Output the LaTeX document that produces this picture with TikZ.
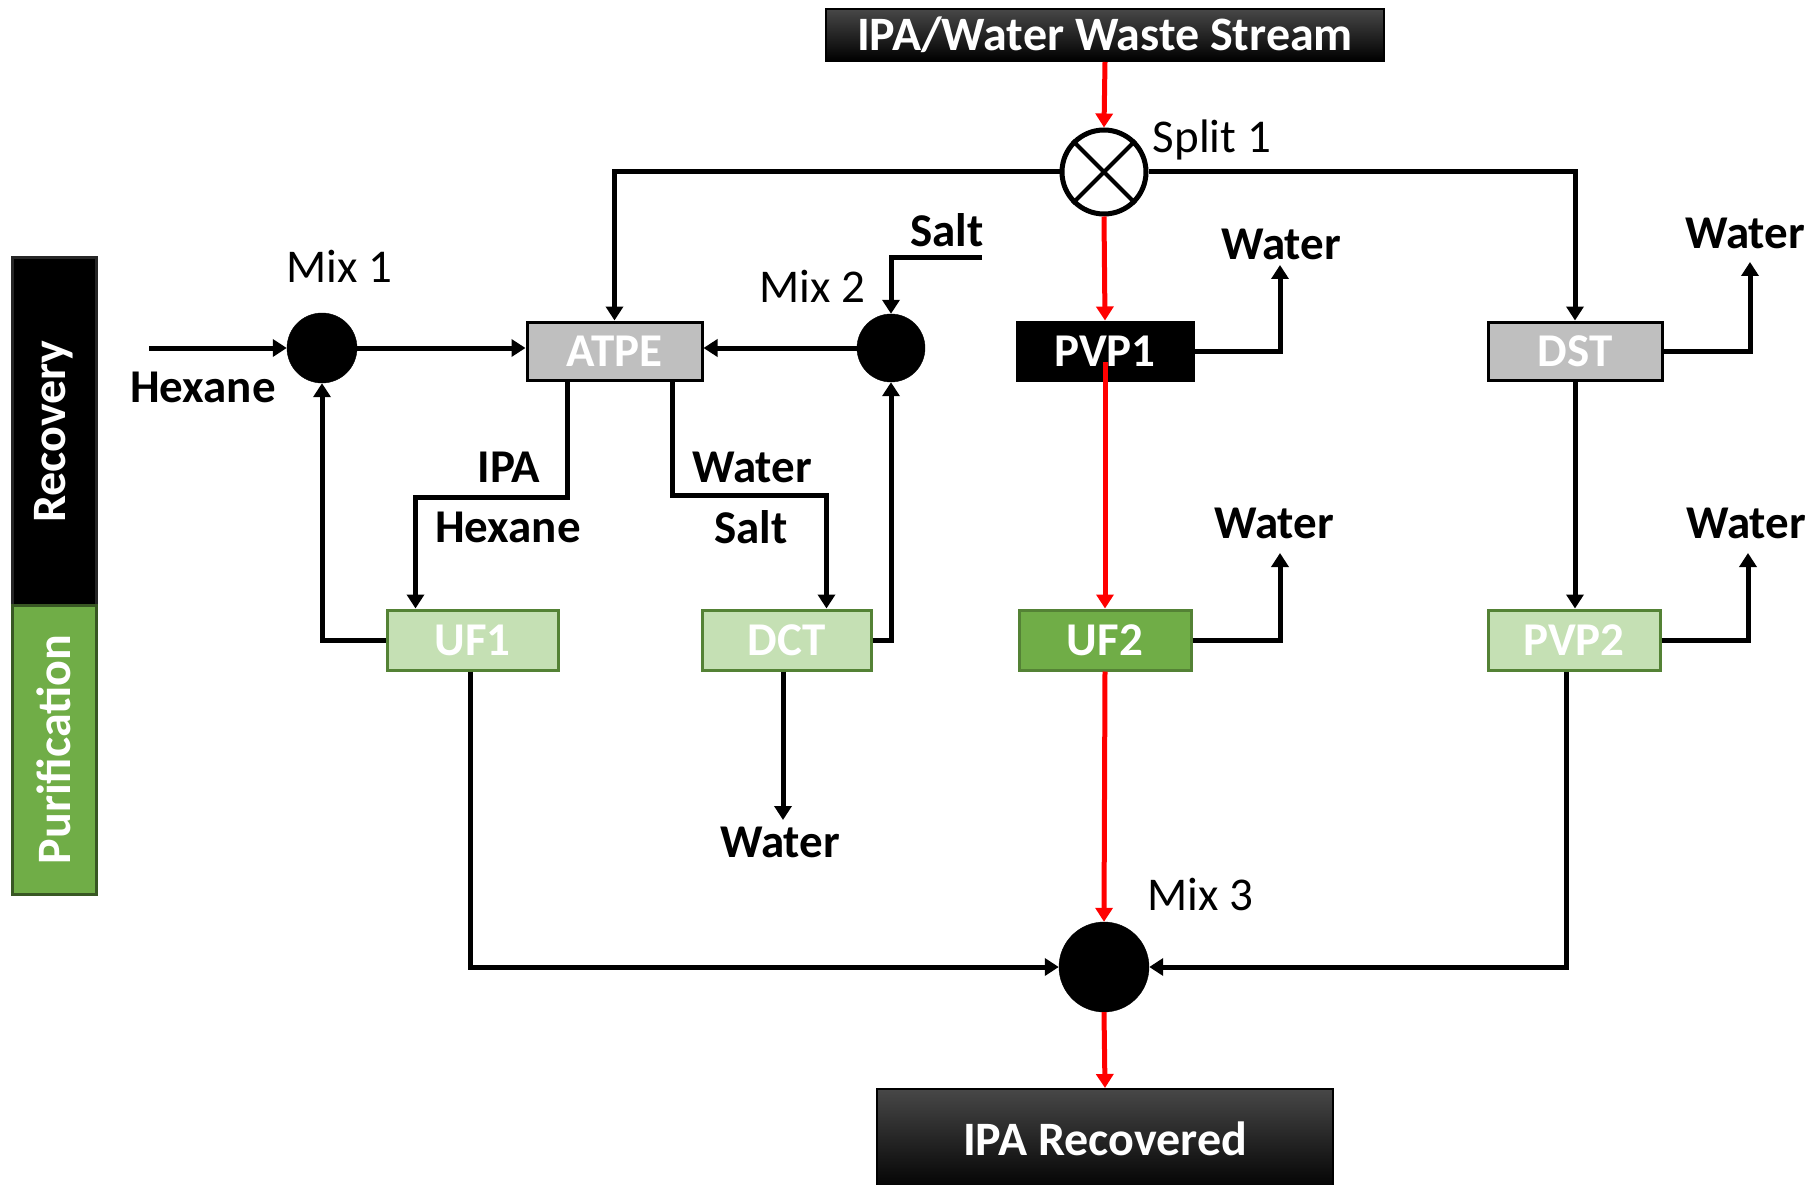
\documentclass[tikz,border=0pt]{standalone}
\usepackage{fontspec}
\setmainfont{Carlito}
\usetikzlibrary{arrows.meta,calc}
\definecolor{lgreen}{HTML}{C5E0B4}
\definecolor{mgreen}{HTML}{70AD47}
\definecolor{dgreen}{HTML}{548235}
\definecolor{ddgreen}{HTML}{385723}
\definecolor{lgray}{HTML}{BFBFBF}
\definecolor{flowred}{HTML}{FF0000}
\begin{document}
\begin{tikzpicture}[x=1pt,y=-1pt,
  lbl/.style={font=\fontsize{47}{56}\selectfont\bfseries, inner sep=0pt},
  tag/.style={font=\fontsize{47}{56}\selectfont, inner sep=0pt},
  unit/.style={draw, line width=3pt, minimum height=58pt, inner sep=0pt,
    font=\fontsize{47}{56}\selectfont\bfseries, text=white},
  grayunit/.style={unit, fill=lgray, draw=black},
  blackunit/.style={unit, fill=black, draw=black},
  lgunit/.style={unit, fill=lgreen, draw=dgreen, minimum height=60pt},
  mgunit/.style={unit, fill=mgreen, draw=dgreen, minimum height=60pt},
  topbox/.style={draw=black, line width=2pt, top color=black!72, middle color=black, bottom color=black,
    inner sep=0pt, font=\fontsize{48}{56}\selectfont\bfseries, text=white},
  mixc/.style={circle, fill=black, draw=black, inner sep=0pt},
  splitc/.style={circle, draw=black, fill=white, line width=5pt, inner sep=0pt, minimum size=84pt},
  arr/.style={line width=5pt, draw=black, -{Triangle[width=17pt,length=14pt]}},
  redarr/.style={line width=5pt, draw=flowred, -{Triangle[width=17pt,length=14pt]}},
  bar/.style={rotate=90, line width=3pt, inner sep=0pt, minimum height=84pt,
    font=\fontsize{48}{56}\selectfont\bfseries, text=white}
]
\useasboundingbox (0,0) rectangle (1816,1185);

% side bars
\node[bar, fill=black, draw=black!85, minimum width=347pt] (recbar) at (54,431.5) {Recovery};
\node[bar, fill=mgreen, draw=ddgreen, minimum width=289pt] (purbar) at (54,749.5) {Purification};

% terminal boxes
\node[topbox, minimum width=558pt, minimum height=52pt] (src) at (1105,35) {IPA/Water Waste Stream};
\node[topbox, minimum width=456pt, minimum height=104pt, text depth=0pt] (rec) at (1105,1141) {\raisebox{4pt}{IPA Recovered}};

% splitter and mixers
\node[splitc] (split) at (1104,172) {};
\draw[line width=4pt] (split.45) -- (split.225) (split.135) -- (split.315);
\node[mixc, minimum size=70pt] (mix1) at (322,348) {};
\node[mixc, minimum size=68pt] (mix2) at (891,348) {};
\node[mixc, minimum size=90pt] (mix3) at (1104,967) {};

% units
\node[grayunit, minimum width=175pt] (ATPE) at (614.5,351) {ATPE};
\node[blackunit, minimum width=176pt] (PVP1) at (1105,351) {PVP1};
\node[grayunit, minimum width=174pt] (DST) at (1575,351) {DST};
\node[lgunit, minimum width=171pt] (UF1) at (472.5,640) {UF1};
\node[lgunit, minimum width=169pt] (DCT) at (786.5,640) {DCT};
\node[mgunit, minimum width=172pt] (UF2) at (1105,640) {UF2};
\node[lgunit, minimum width=172pt] (PVP2) at (1574,640) {PVP2};

% free ends
\coordinate (hexin) at (149,348);
\coordinate (saltin) at (982,258);
\coordinate (dctw) at (783,820);
\coordinate (w1) at (1280,265);
\coordinate (w2) at (1280,553);
\coordinate (w3) at (1750,262);
\coordinate (w4) at (1748,553);

% main red stream
\draw[redarr] (src.south) -- (split.north);
\draw[redarr] (split.south) -- (PVP1.north);
\draw[redarr] ($(PVP1.center)+(0,11)$) -- (UF2.north);
\draw[redarr] (UF2.south) -- (mix3.north);
\draw[redarr] (mix3.south) -- (rec.north);

% split branches
\draw[arr] (split.west) -| (ATPE.north);
\draw[arr] (split.east) -| (DST.north);

% recovery loop
\draw[arr] (hexin) -- (mix1.west);
\draw[arr] (mix1.east) -- (ATPE.west |- mix1.east);
\draw[arr] (mix2.west) -- (ATPE.east |- mix2.west);
\draw[arr] (saltin) -| (mix2.north);
\draw[arr] ($(ATPE.south)+(-47,0)$) -- ++(0,116) -| ($(UF1.north)+(-57,0)$);
\draw[arr] ($(ATPE.south)+(58,0)$) -- ++(0,114) -| ($(DCT.north)+(40,0)$);
\draw[arr] (UF1.west) -| (mix1.south);
\draw[arr] (DCT.east) -| (mix2.south);
\draw[arr] (DCT.south -| dctw) -- (dctw);

% water outlets
\draw[arr] (PVP1.east) -| (w1);
\draw[arr] (UF2.east) -| (w2);
\draw[arr] (DST.east) -| (w3);
\draw[arr] (PVP2.east) -| (w4);
\draw[arr] (DST.south) -- (DST.south |- PVP2.north);

% to Mix 3
\draw[arr] ($(UF1.south)+(-2,0)$) |- (mix3.west);
\draw[arr] ($(PVP2.south)+(-8,0)$) |- (mix3.east);

% labels
\node[tag] (lsplit) at (1212,140) {Split 1};
\node[tag] (lmix1) at (339,266) {Mix 1};
\node[tag] (lmix2) at (812,286) {Mix 2};
\node[tag] (lmix3) at (1200,894) {Mix 3};
\node[lbl] (lhex) at (203,387) {Hexane};
\node[lbl] (lsalt) at (947,230) {Salt};
\node[lbl] (lipa) at (509,467) {IPA};
\node[lbl] (lhex2) at (508,527) {Hexane};
\node[lbl] (lwat) at (752,467) {Water};
\node[lbl] (lsalt2) at (751,527) {Salt};
\node[lbl] (lwdct) at (780,842) {Water};
\node[lbl] (lw1) at (1281,244) {Water};
\node[lbl] (lw2) at (1274,523) {Water};
\node[lbl] (lw3) at (1745,233) {Water};
\node[lbl] (lw4) at (1746,523) {Water};
\end{tikzpicture}
\end{document}
